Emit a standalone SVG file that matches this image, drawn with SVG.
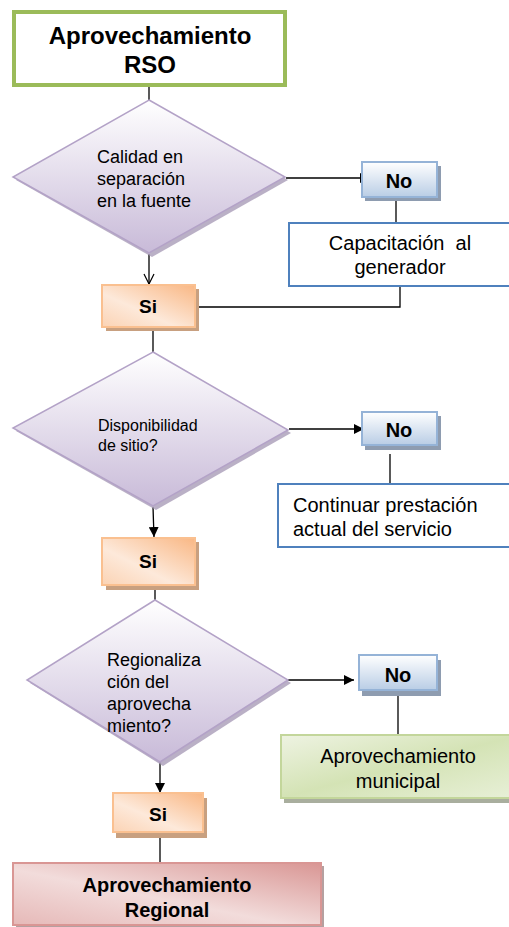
<svg xmlns="http://www.w3.org/2000/svg" width="509" height="927" viewBox="0 0 509 927">
<defs>
<linearGradient id="gDia" x1="0" y1="0" x2="0" y2="1"><stop offset="0" stop-color="#FFFFFF"/><stop offset="1" stop-color="#C8BAD8"/></linearGradient>
<linearGradient id="gNo" x1="0" y1="0" x2="0" y2="1"><stop offset="0" stop-color="#FFFFFF"/><stop offset="1" stop-color="#B9CDE5"/></linearGradient>
<linearGradient id="gSi" x1="1" y1="0" x2="0" y2="1"><stop offset="0" stop-color="#F9B784"/><stop offset="0.6" stop-color="#FDE9DA"/><stop offset="1" stop-color="#FBD3B4"/></linearGradient>
<linearGradient id="gGreen" x1="0" y1="0" x2="1" y2="1"><stop offset="0" stop-color="#EEF3E2"/><stop offset="0.5" stop-color="#D4E3B5"/><stop offset="1" stop-color="#E8F0D8"/></linearGradient>
<linearGradient id="gRed" x1="1" y1="0" x2="0" y2="1"><stop offset="0" stop-color="#D99694"/><stop offset="0.55" stop-color="#F2DCDB"/><stop offset="1" stop-color="#E6B9B8"/></linearGradient>
<marker id="aFill" viewBox="0 0 10 10" refX="10" refY="5" markerWidth="10" markerHeight="10" markerUnits="userSpaceOnUse" orient="auto"><path d="M0,0 L10,5 L0,10 Z" fill="#000"/></marker>
<marker id="aOpen" viewBox="0 0 12 12" refX="11" refY="6" markerWidth="12" markerHeight="12" markerUnits="userSpaceOnUse" orient="auto"><path d="M1,1 L11,6 L1,11" fill="none" stroke="#000" stroke-width="1.2"/></marker>
</defs>
<style>
.t{font-family:"Liberation Sans",Arial,sans-serif;fill:#000}
.b{font-weight:bold}
.dia{fill:url(#gDia);stroke:#B3A2C7;stroke-width:1.5}
.diaS{fill:#A99CB8;opacity:0.8}
.no{fill:url(#gNo);stroke:#95B3D7;stroke-width:2}
.noS{fill:#8E9CB0}
.si{fill:url(#gSi);stroke:#FAC090;stroke-width:2}
.siS{fill:#C8A080}
.proc{fill:#FFFFFF;stroke:#4F81BD;stroke-width:2}
.c{fill:none;stroke:#000;stroke-width:1.3}
</style>

<g id="connectors">
<line class="c" x1="149" y1="86" x2="149" y2="100"/>
<line class="c" x1="286" y1="178" x2="370" y2="178" marker-end="url(#aFill)"/>
<line class="c" x1="396" y1="200" x2="396" y2="223"/>
<line class="c" x1="149" y1="254" x2="149" y2="284" marker-end="url(#aOpen)"/>
<polyline class="c" points="400,286 400,307 196,307"/>
<line class="c" x1="153" y1="331" x2="153" y2="352"/>
<line class="c" x1="289" y1="429" x2="364" y2="429" marker-end="url(#aFill)"/>
<line class="c" x1="390" y1="454" x2="390" y2="484"/>
<line class="c" x1="153" y1="507" x2="154" y2="537" marker-end="url(#aFill)"/>
<line class="c" x1="155" y1="589" x2="155" y2="600"/>
<line class="c" x1="288" y1="680" x2="354" y2="680" marker-end="url(#aFill)"/>
<line class="c" x1="398" y1="690" x2="398" y2="735"/>
<line class="c" x1="160" y1="762" x2="160" y2="793" marker-end="url(#aFill)"/>
<line class="c" x1="160" y1="837" x2="160" y2="863"/>
</g>

<g id="start">
<rect x="14" y="12" width="271" height="73" fill="#FFFFFF" stroke="#9BBB59" stroke-width="4"/>
<text class="t b" x="150" y="44" font-size="24" text-anchor="middle">Aprovechamiento</text>
<text class="t b" x="150" y="73" font-size="24" text-anchor="middle">RSO</text>
</g>

<g id="d1">
<polygon class="diaS" points="152,103 288,180 152,257 16,180"/>
<polygon class="dia" points="149,100 285,177 149,253 13,177"/>
<text class="t" font-size="18"><tspan x="97" y="163">Calidad en</tspan><tspan x="97" y="185">separación</tspan><tspan x="97" y="207">en la fuente</tspan></text>
</g>

<g id="no1">
<rect class="noS" x="365" y="166" width="76" height="35"/>
<rect class="no" x="362" y="162" width="75" height="35"/>
<text class="t b" x="399" y="188" font-size="20" text-anchor="middle">No</text>
</g>

<g id="cap">
<rect class="proc" x="289" y="223" width="230" height="63"/>
<text class="t" x="400" y="250" font-size="20" text-anchor="middle">Capacitación&#160; al</text>
<text class="t" x="400" y="274" font-size="20" text-anchor="middle">generador</text>
</g>

<g id="si1">
<rect class="siS" x="106" y="289" width="93" height="42"/>
<rect class="si" x="102" y="285" width="93" height="42"/>
<text class="t b" x="148" y="313" font-size="19" text-anchor="middle">Si</text>
</g>

<g id="d2">
<polygon class="diaS" points="156,355 291,433 156,510 16,431"/>
<polygon class="dia" points="153,352 288,430 153,506 13,428"/>
<text class="t" font-size="16"><tspan x="98" y="431">Disponibilidad</tspan><tspan x="98" y="451">de sitio?</tspan></text>
</g>

<g id="no2">
<rect class="noS" x="365" y="416" width="76" height="34"/>
<rect class="no" x="362" y="412" width="75" height="33"/>
<text class="t b" x="399" y="437" font-size="20" text-anchor="middle">No</text>
</g>

<g id="cont">
<rect class="proc" x="278" y="484" width="241" height="63"/>
<text class="t" x="293" y="512" font-size="20">Continuar prestación</text>
<text class="t" x="293" y="536" font-size="20">actual del servicio</text>
</g>

<g id="si2">
<rect class="siS" x="106" y="542" width="93" height="48"/>
<rect class="si" x="102" y="538" width="93" height="47"/>
<text class="t b" x="148" y="568" font-size="19" text-anchor="middle">Si</text>
</g>

<g id="d3">
<polygon class="diaS" points="158,603 291,683 163,766 30,683"/>
<polygon class="dia" points="155,600 288,680 160,762 27,680"/>
<text class="t" font-size="18"><tspan x="107" y="666">Regionaliza</tspan><tspan x="107" y="688">ción del</tspan><tspan x="107" y="710">aprovecha</tspan><tspan x="107" y="732">miento?</tspan></text>
</g>

<g id="no3">
<rect class="noS" x="362" y="660" width="79" height="36"/>
<rect class="no" x="359" y="655" width="78" height="35"/>
<text class="t b" x="398" y="682" font-size="20" text-anchor="middle">No</text>
</g>

<g id="muni">
<rect x="284" y="740" width="235" height="63" fill="#A9AE9E"/>
<rect x="281" y="735" width="238" height="63" fill="url(#gGreen)" stroke="#C3D69B" stroke-width="2"/>
<text class="t" x="398" y="763" font-size="20" text-anchor="middle">Aprovechamiento</text>
<text class="t" x="398" y="788" font-size="20" text-anchor="middle">municipal</text>
</g>

<g id="si3">
<rect class="siS" x="116" y="798" width="91" height="40"/>
<rect class="si" x="113" y="793" width="90" height="39"/>
<text class="t b" x="158" y="821" font-size="19" text-anchor="middle">Si</text>
</g>

<g id="regional">
<rect x="16" y="866" width="308" height="61" fill="#B5A0A0"/>
<rect x="13" y="863" width="308" height="62" fill="url(#gRed)" stroke="#D99694" stroke-width="2"/>
<text class="t b" x="167" y="892" font-size="20" text-anchor="middle">Aprovechamiento</text>
<text class="t b" x="167" y="917" font-size="20" text-anchor="middle">Regional</text>
</g>
</svg>
